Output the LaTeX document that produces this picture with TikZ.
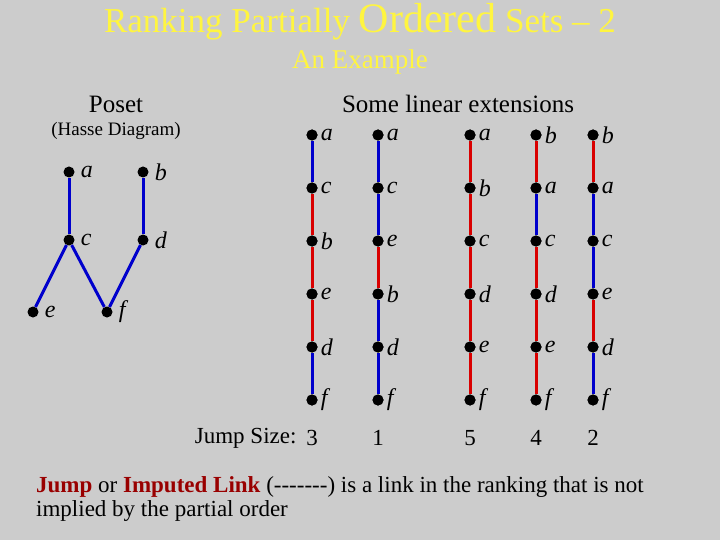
\documentclass[tikz,border=0pt]{standalone}
\usepackage{fontspec}
\setmainfont{Liberation Serif}
\begin{document}
\begin{tikzpicture}[x=1pt,y=-1pt,
  dot/.style={circle,fill=black,inner sep=0pt,minimum size=11pt},
  lab/.style={anchor=west,font=\fontsize{24}{24}\selectfont\itshape,inner sep=3pt},
  bl/.style={draw=blue!80!black,line width=3pt},
  rd/.style={draw=red!85!black,line width=3pt},
  ttl/.style={text=yellow!75!white}]
\fill[gray!40] (0,0) rectangle (720,540);
\useasboundingbox (0,0) rectangle (720,540);
\node[ttl,font=\fontsize{35}{35}\selectfont] (t) at (360,22) {Ranking Partially {\fontsize{42}{42}\selectfont Ordered} Sets -- 2};
\node[ttl,font=\fontsize{27}{27}\selectfont] (st) at (360,62) {An Example};
\node[font=\fontsize{25}{25}\selectfont] (pos) at (116,104) {Poset};
\node[font=\fontsize{19}{19}\selectfont] (hd) at (116,131) {(Hasse Diagram)};
\node[font=\fontsize{25}{25}\selectfont] (sle) at (458,104) {Some linear extensions};
% poset
\foreach \n/\x/\y in {a/69/172,b/143/172,c/69/240,d/143/240,e/33/312,f/107/312}{
  \node[dot] (p\n) at (\x,\y) {};
  \node[lab] at ([xshift=3pt]p\n.east) {\n};
}
\draw[bl] (pa)--(pc); \draw[bl] (pb)--(pd); \draw[bl] (pc)--(pe);
\draw[bl] (pc)--(pf); \draw[bl] (pd)--(pf);
% chains
\foreach \k/\x/\L/\C/\J in {1/312/{a,c,b,e,d,f}/{bl,rd,rd,rd,bl}/3,
  2/378/{a,c,e,b,d,f}/{bl,bl,rd,bl,bl}/1,
  3/470/{a,b,c,d,e,f}/{rd,rd,rd,rd,rd}/5,
  4/536/{b,a,c,d,e,f}/{rd,bl,rd,rd,rd}/4,
  5/593/{b,a,c,e,d,f}/{rd,bl,bl,rd,bl}/2}{
  \foreach \l [count=\i] in \L {
    \node[dot] (c\k-\i) at (\x,{135+(\i-1)*53}) {};
    \node[lab] at (c\k-\i.east) {\l};
  }
  \foreach \s [count=\i] in \C {
    \pgfmathtruncatemacro{\j}{\i+1}
    \draw[\s] (c\k-\i)--(c\k-\j);
  }
  \foreach \i in {1,...,6} {\node[dot] at (c\k-\i) {};}
  \node[font=\fontsize{23}{23}\selectfont] (j\k) at (\x,438) {\J};
}
\node[font=\fontsize{23}{23}\selectfont,anchor=east] (js) at (300,438) {Jump Size:};
\node[font=\fontsize{23}{23}\selectfont,anchor=north west,align=left,inner sep=0pt] (txt) at (36,476)
 {\textcolor{red!60!black}{\textbf{Jump}} or \textcolor{red!60!black}{\textbf{Imputed Link}} ({-}{-}{-}{-}{-}{-}{-}) is a link in the ranking that is not\\[1pt] implied by the partial order};
\end{tikzpicture}
\end{document}
